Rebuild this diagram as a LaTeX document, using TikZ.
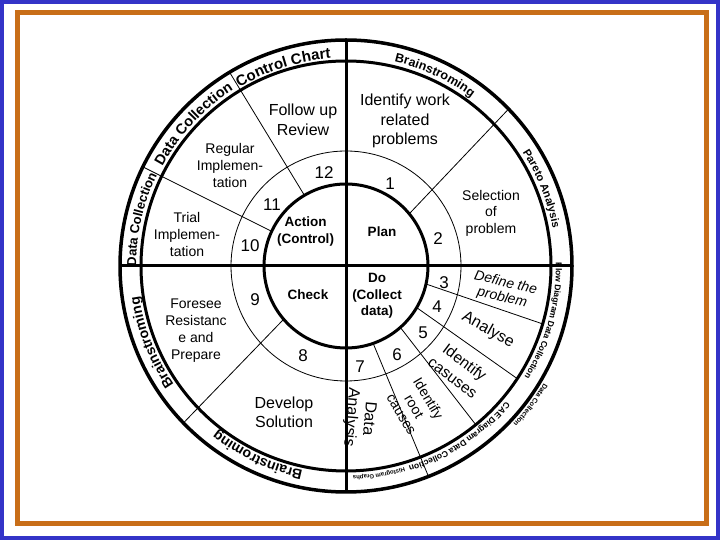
\documentclass[tikz,border=0pt]{standalone}
\usepackage{fontspec}
\setmainfont{Liberation Sans}
\usetikzlibrary{decorations.text}
\definecolor{frameblue}{RGB}{52,52,200}
\definecolor{frameorange}{RGB}{200,110,24}
\begin{document}
\begin{tikzpicture}[x=1pt,y=1pt,
  thickline/.style={line width=3pt},
  thinline/.style={line width=0.8pt},
  lbl/.style={align=center, inner sep=0pt, font=\fontsize{16}{19.5}\selectfont},
  sml/.style={align=center, inner sep=0pt, font=\fontsize{14}{17}\selectfont},
  core/.style={align=center, inner sep=0pt, font=\bfseries\fontsize{13.5}{17}\selectfont},
  num/.style={inner sep=0pt, font=\fontsize{17}{17}\selectfont}
]
\useasboundingbox (0,0) rectangle (720,540);
\fill[white] (0,0) rectangle (720,540);
\draw[frameblue, line width=4pt] (2,2) rectangle (718,538);
\draw[frameorange, line width=5.5pt] (17.5,16.5) rectangle (706.5,527.5);
\coordinate (C) at (346,274);

% thin dividers stopping at the ring
\draw[thinline] (399,265.2) -- (549.6,213.7);
\draw[thinline] (392,249.8) -- (523,157.3);
\draw[thinline] (384.8,232.6) -- (479.8,110.1);
\fill[white, even odd rule] (C) circle[radius=205] (C) circle[radius=240];
% thin dividers crossing the ring
\draw[thinline] (291.8,298.6) -- (142.9,373.1);
\draw[thinline] (325,310.8) -- (229.6,467.7);
\draw[thinline] (390.3,306.2) -- (508.6,431);
\draw[thinline] (301.7,239.4) -- (183.4,117);
\draw[thinline] (361.9,223.7) -- (428.5,63.5);
\fill[white] (C) circle[radius=82];

\draw[thinline] (C) circle[radius=115];
\draw[thickline] (C) circle[radius=82];
\draw[thickline] (C) circle[radius=205];
\draw[line width=3.5pt] (C) circle[radius=226];
\draw[thickline] (346,500) -- (346,48);
\draw[thickline] (120,274) -- (572,274);

% ring texts
\path[decorate, decoration={text along path, text align=center, text={|\bfseries\fontsize{13}{13}\selectfont|Data Collection}}] (136.58,258.69) arc[start angle=184, end angle=150, radius=210];
\path[decorate, decoration={text along path, text align=center, text={|\bfseries\fontsize{14.5}{14.5}\selectfont|Data Collection}}] (156.58,362.33) arc[start angle=155, end angle=119, radius=209];
\path[decorate, decoration={text along path, text align=center, text={|\bfseries\fontsize{15}{15}\selectfont|Control Chart}}] (226.70,444.38) arc[start angle=125, end angle=90, radius=208];
\path[decorate, decoration={text along path, text align=center, text={|\bfseries\fontsize{12.5}{12.5}\selectfont|Brainstroming}}] (375.23,481.96) arc[start angle=82, end angle=48, radius=210];
\path[decorate, decoration={text along path, text align=center, text={|\bfseries\fontsize{11}{11}\selectfont|Pareto Analysis}}] (515.89,397.43) arc[start angle=36, end angle=7, radius=210];
\path[decorate, decoration={text along path, text align=center, text={|\bfseries\fontsize{8.5}{8.5}\selectfont|Flow Diagram Data Collection}}] (555.71,284.99) arc[start angle=3, end angle=-34, radius=210];
\path[decorate, decoration={text along path, text align=center, text={|\bfseries\fontsize{8.5}{8.5}\selectfont|CAE Diagram Data Collection}}] (511.48,144.71) arc[start angle=-38, end angle=-75, radius=210];
\path[decorate, decoration={text along path, text align=center, text={|\bfseries\fontsize{6}{6}\selectfont|Histogram Graphs}}] (410.89,74.28) arc[start angle=-72, end angle=-90, radius=210];
\path[decorate, decoration={text along path, text align=center, text={|\bfseries\fontsize{7}{7}\selectfont|Data Collection}}] (552.72,173.17) arc[start angle=-26, end angle=-48, radius=230];
\path[decorate, decoration={text along path, text align=center, text={|\bfseries\fontsize{14}{14}\selectfont|Brainstroming}}] (181.31,145.33) arc[start angle=218, end angle=185, radius=209];
\path[decorate, decoration={text along path, text align=center, text={|\bfseries\fontsize{14}{14}\selectfont|Brainstroming}}] (313.30,67.57) arc[start angle=261, end angle=229, radius=209];

% sector texts
\node[lbl] (follow) at (303,420.3) {Follow up\\Review};
\node[lbl] (identify) at (405,418.7) {Identify work\\related\\problems};
\node[sml] (regular) at (230,374.5) {Regular\\Implemen-\\tation};
\node[sml] (trial) at (187,305.7) {Trial\\Implemen-\\tation};
\node[sml] (foresee) at (196,209.5) {Foresee\\Resistanc\\e and\\Prepare};
\node[lbl] (develop) at (284,127.5) {Develop\\Solution};
\node[sml, font=\fontsize{14}{16.5}\selectfont] (selection) at (491,327) {Selection\\of\\problem};
\node[sml, font=\itshape\fontsize{14}{14}\selectfont, rotate=-13] (define1) at (505.9,258) {Define the};
\node[sml, font=\itshape\fontsize{14}{14}\selectfont, rotate=-13] (define2) at (502.1,242) {problem};
\node[lbl, rotate=-29] (analyse) at (488,210) {Analyse};
\node[lbl, font=\fontsize{15.5}{15.5}\selectfont, rotate=-37] (casuses1) at (463.9,176.8) {Identify};
\node[lbl, font=\fontsize{15.5}{15.5}\selectfont, rotate=-37] (casuses2) at (452.1,161.2) {casuses};
\node[sml, font=\fontsize{14}{14}\selectfont, rotate=-59] (root1) at (427.3,141) {Identify};
\node[sml, font=\fontsize{14}{14}\selectfont, rotate=-59] (root2) at (414,133) {root};
\node[sml, font=\fontsize{14}{14}\selectfont, rotate=-59] (root3) at (400.7,125) {causes};
\node[lbl, font=\fontsize{16}{16}\selectfont, rotate=-95] (data1) at (370,121.2) {Data};
\node[lbl, font=\fontsize{16}{16}\selectfont, rotate=-95] (data2) at (351,122.8) {Analysis};

% core texts
\node[core] (action) at (305.5,308.2) {Action\\(Control)};
\node[core] (plan) at (382,308) {Plan};
\node[core, font=\bfseries\fontsize{13.5}{16.5}\selectfont] (do) at (377,243.8) {Do\\(Collect\\data)};
\node[core] (check) at (308,245) {Check};

% numbers
\node[num] (n1) at (390,356) {1};
\node[num] (n2) at (438,301) {2};
\node[num] (n3) at (444,257) {3};
\node[num] (n4) at (437,233) {4};
\node[num] (n5) at (423,207) {5};
\node[num] (n6) at (397,185) {6};
\node[num] (n7) at (360,173) {7};
\node[num] (n8) at (303,184) {8};
\node[num] (n9) at (255,240) {9};
\node[num] (n10) at (250,294) {10};
\node[num] (n11) at (272,335) {11};
\node[num] (n12) at (324,367) {12};
\end{tikzpicture}
\end{document}
